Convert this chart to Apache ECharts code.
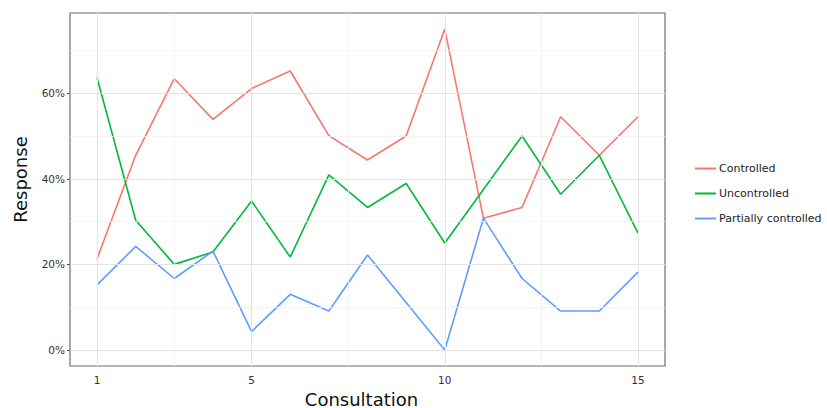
<!DOCTYPE html>
<html>
<head>
<meta charset="utf-8">
<script src="https://cdn.jsdelivr.net/npm/echarts@6/dist/echarts.min.js"></script>
<style>
html,body{margin:0;padding:0;background:#fff;overflow:hidden;}
#c{width:827px;height:408px;}
</style>
</head>
<body>
<div id="c"></div>
<script>
const consultations = [1,2,3,4,5,6,7,8,9,10,11,12,13,14,15];
const seriesNames = ['Controlled','Uncontrolled','Partially controlled'];
const controlled = [21.3,45.5,63.4,53.9,61.1,65.2,50.1,44.4,50.0,75.0,30.8,33.3,54.5,45.5,54.5];
const uncontrolled = [63.6,30.3,20.0,22.9,34.8,21.7,40.9,33.3,38.9,25.0,37.5,50.0,36.4,45.5,27.3];
const partially = [15.2,24.2,16.7,23.1,4.3,13.0,9.1,22.2,11.1,0.0,30.8,16.7,9.1,9.1,18.2];
const colors = ['#F8766D','#00BA38','#619CFF'];
const xTicks = [1,5,10,15];
const xMinor = [3,7.5,12.5];
const yTicks = [0,20,40,60];
const yMinor = [10,30,50,70];

const FONT = 'DejaVu Sans';
const chart = echarts.init(document.getElementById('c'), null, {renderer:'svg'});

function pairs(vals){ return consultations.map((x,i)=>[x, vals[i]]); }

const majorStyle = {color:'#e4e4e4', width:1, type:'solid'};
const minorStyle = {color:'#f1f1f1', width:0.8, type:'solid'};
const gridLines = [];
yMinor.forEach(v=>gridLines.push({yAxis:v, lineStyle:minorStyle}));
xMinor.forEach(v=>gridLines.push({xAxis:v, lineStyle:minorStyle}));
yTicks.forEach(v=>gridLines.push({yAxis:v, lineStyle:majorStyle}));
xTicks.forEach(v=>gridLines.push({xAxis:v, lineStyle:majorStyle}));

const dataSets = [controlled, uncontrolled, partially];

chart.setOption({
  animation:false,
  backgroundColor:'#ffffff',
  textStyle:{fontFamily:FONT},
  grid:{left:70, right:162, top:13, bottom:42, containLabel:false, outerBoundsMode:'none',
        show:true, borderColor:'#6e6e6e', borderWidth:1.2, backgroundColor:'#fff'},
  legend:{
    orient:'vertical', left:690, top:158, itemGap:14,
    itemWidth:21, itemHeight:2, icon:'rect',
    textStyle:{fontFamily:FONT, fontSize:11, color:'#222', padding:[0,0,0,-2]},
    data:seriesNames
  },
  xAxis:{
    type:'value', min:0.3, max:15.7,
    name:'Consultation', nameLocation:'middle', nameGap:24,
    nameTextStyle:{fontFamily:FONT, fontSize:18, color:'#111', padding:[0,0,0,-12]},
    axisLine:{show:false},
    axisTick:{show:true, length:3, lineStyle:{color:'#444'}, customValues:xTicks},
    axisLabel:{color:'#333', fontSize:10.5, margin:8, customValues:xTicks},
    splitLine:{show:false}
  },
  yAxis:{
    type:'value', min:-3.75, max:78.75,
    name:'Response', nameLocation:'middle', nameGap:41,
    nameTextStyle:{fontFamily:FONT, fontSize:18, color:'#111', padding:[0,0,0,20]},
    axisLine:{show:false},
    axisTick:{show:true, length:3, lineStyle:{color:'#444'}, customValues:yTicks},
    axisLabel:{color:'#333', fontSize:10.5, margin:5, customValues:yTicks, formatter:v=>Math.round(v)+'%'},
    splitLine:{show:false}
  },
  series:[
    {type:'line', name:'_grid', data:[], silent:true, z:1,
     markLine:{silent:true, symbol:['none','none'], label:{show:false}, animation:false, data:gridLines}},
    ...seriesNames.map((n,i)=>({
      type:'line', name:n, data:pairs(dataSets[i]), showSymbol:false, symbol:'none',
      lineStyle:{color:colors[i], width:1.6}, itemStyle:{color:colors[i]}, z:3
    }))
  ]
});
</script>
</body>
</html>
